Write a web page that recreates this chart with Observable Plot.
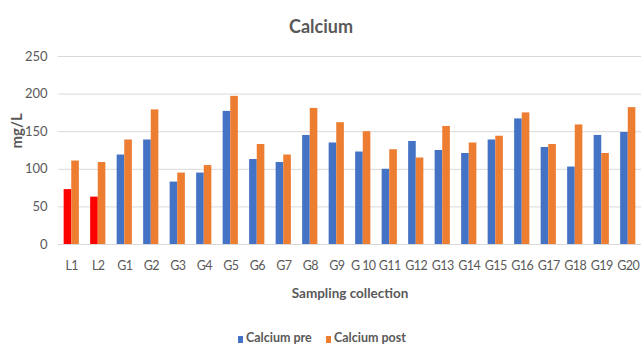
<!DOCTYPE html>
<html>
<head>
<meta charset="utf-8">
<script src="https://cdn.jsdelivr.net/npm/d3@7"></script>
<script src="https://cdn.jsdelivr.net/npm/@observablehq/plot@0.6"></script>
<style>
  body { margin: 0; background: #fff; font-family: Lato, "Open Sans", sans-serif; }
  #chart { position: relative; width: 641px; height: 350px; }
  #chart svg g[aria-label="x-axis tick label"] text { letter-spacing: -0.6px; }
  .legend { position: absolute; left: 0; top: 330px; width: 641px; height: 18px; font-size: 12.5px; font-weight: bold; color: #595959; }
  .legend span.item { position: absolute; top: 0; white-space: nowrap; }
  .legend i { display: inline-block; width: 5px; height: 7px; margin-right: 3px; vertical-align: -0.5px; }
</style>
</head>
<body>
<div id="chart"></div>
<script>
// Sampling sites (L = lake, G = ground water) and calcium levels in mg/L
const sites = ["L1", "L2", "G1", "G2", "G3", "G4", "G5", "G6", "G7", "G8", "G9", "G 10",
  "G11", "G12", "G13", "G14", "G15", "G16", "G17", "G18", "G19", "G20"];
const calciumPre = [73, 63, 119, 139, 83, 95, 177, 113, 109, 145, 135, 123,
  100, 137, 125, 121, 139, 167, 129, 103, 145, 149];
const calciumPost = [111, 109, 139, 179, 95, 105, 197, 133, 119, 181, 162, 150,
  126, 115, 157, 135, 144, 175, 133, 159, 121, 182];
const yTicks = [0, 50, 100, 150, 200, 250];

const BLUE = "#4472C4", ORANGE = "#ED7D31", RED = "#FF0000", TEXT = "#595959";

const rows = sites.map((site, i) => ({site, pre: calciumPre[i], post: calciumPost[i]}));

const W = 641, H = 322, ML = 58, MR = 0;
const band = (W - ML - MR) / sites.length;
const barW = 7.6;
const outer = band / 2 - barW;

const plot = Plot.plot({
  width: W,
  height: H,
  marginLeft: ML,
  marginRight: MR,
  marginTop: 56,
  marginBottom: 78,
  style: {fontFamily: "Lato, 'Open Sans', sans-serif", color: TEXT, background: "#fff"},
  x: {domain: sites, padding: 0, round: false, label: null},
  y: {domain: [0, 250], label: null},
  marks: [
    Plot.ruleY(yTicks, {stroke: "#d9d9d9", strokeWidth: 1}),
    Plot.barY(rows, {
      x: "site", y: "pre",
      fill: d => d.site.startsWith("L") ? RED : BLUE,
      insetLeft: outer, insetRight: band / 2
    }),
    Plot.barY(rows, {
      x: "site", y: "post", fill: ORANGE,
      insetLeft: band / 2, insetRight: outer
    }),
    Plot.axisY(yTicks, {tickSize: 0, tickPadding: 11, fontSize: 13, fill: TEXT, label: null}),
    Plot.axisX({tickSize: 0, tickPadding: 17, fontSize: 12.5, fill: TEXT, label: null}),
    // chart title
    Plot.text(["Calcium"], {frameAnchor: "top", dx: -29, dy: -36, fontSize: 18, fontWeight: "bold", fill: TEXT}),
    // y axis title
    Plot.text(["mg/L"], {frameAnchor: "left", dx: -41, dy: -2, rotate: -90, fontSize: 15, fontWeight: "bold", fill: TEXT}),
    // x axis title
    Plot.text(["Sampling collection"], {frameAnchor: "bottom", dy: 53, fontSize: 13.5, fontWeight: "bold", fill: TEXT})
  ]
});

const chart = document.getElementById("chart");
chart.appendChild(plot);

const legend = document.createElement("div");
legend.className = "legend";
legend.innerHTML =
  `<span class="item" style="left:238px"><i style="background:${BLUE}"></i>Calcium pre</span>` +
  `<span class="item" style="left:326px"><i style="background:${ORANGE}"></i>Calcium post</span>`;
chart.appendChild(legend);
</script>
</body>
</html>
